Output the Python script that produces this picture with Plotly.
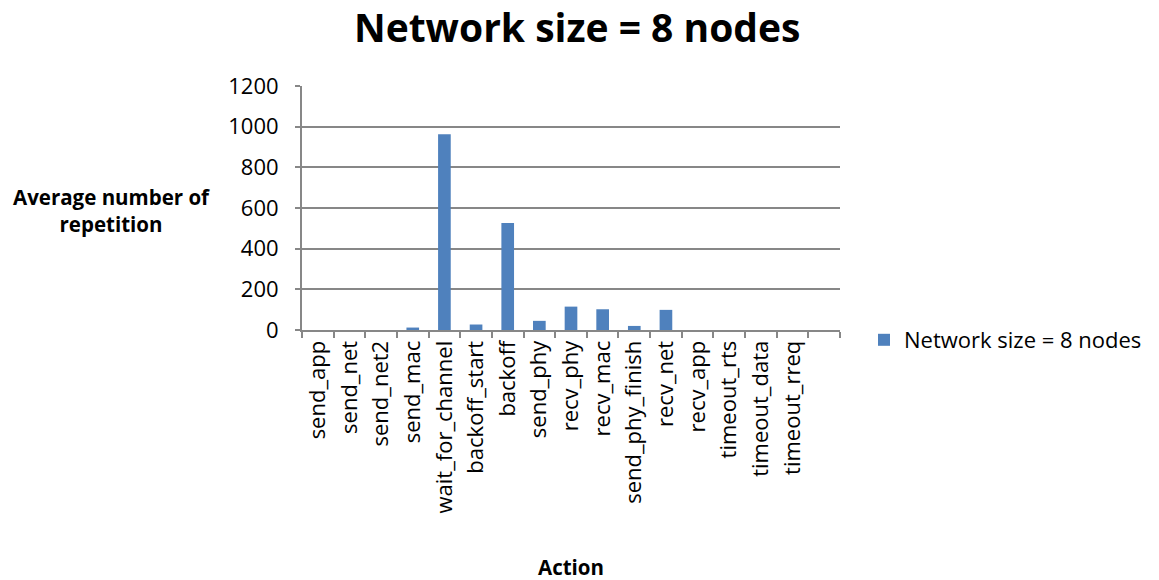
import plotly.graph_objects as go

# Average repetition count per action
actions = ["send_app", "send_net", "send_net2", "send_mac", "wait_for_channel",
           "backoff_start", "backoff", "send_phy", "recv_phy", "recv_mac",
           "send_phy_finish", "recv_net", "recv_app", "timeout_rts",
           "timeout_data", "timeout_rreq", " "]
repetitions = [0, 0, 0, 12, 963, 27, 526, 45, 115, 102, 20, 99, 0, 0, 0, 0, None]
series_name = "Network size = 8 nodes"
y_ticks = [0, 200, 400, 600, 800, 1000, 1200]

W, H = 1159, 580
L, R, T, B = 302, 319, 86, 249.5
FONT = "Open Sans, Noto Sans, sans-serif"
GRID = "#878787"

fig = go.Figure()
fig.add_trace(go.Bar(
    x=actions, y=repetitions, name=series_name,
    marker=dict(color="#4f81bd", line=dict(width=0)),
    width=0.4, showlegend=True,
))

fig.update_layout(
    width=W, height=H,
    margin=dict(l=L, r=R, t=T, b=B, pad=0),
    paper_bgcolor="white", plot_bgcolor="white",
    font=dict(family=FONT, color="black"),
    title=dict(text="<b>Network size = 8 nodes</b>", x=0.498, xanchor="center",
               y=1 - 28 / H, yanchor="middle", yref="container",
               font=dict(size=39, family=FONT, color="black")),
    legend=dict(x=864 / W, xref="container", y=1 - 340 / H, yref="container",
                xanchor="left", yanchor="middle", font=dict(size=22, family=FONT),
                bgcolor="rgba(0,0,0,0)", itemsizing="constant"),
    xaxis=dict(
        type="category", categoryorder="array", categoryarray=actions,
        tickangle=-90, tickfont=dict(size=22, family=FONT),
        showline=True, linecolor=GRID, linewidth=2,
        ticks="outside", tickson="boundaries", ticklen=6, tickcolor=GRID, tickwidth=2,
        showgrid=False, range=[-0.5, len(actions) - 0.5],
    ),
    yaxis=dict(
        range=[0, 1200], tickvals=y_ticks, ticktext=[str(v) for v in y_ticks],
        tickfont=dict(size=22, family=FONT), ticklabelstandoff=12,
        showline=True, linecolor=GRID, linewidth=2,
        ticks="outside", ticklen=5, tickcolor=GRID, tickwidth=2,
        showgrid=True, gridcolor=GRID, gridwidth=2,
        zeroline=False,
    ),
)

fig.add_annotation(text="<b>Action</b>", xref="paper", yref="paper",
                   x=0.5 + (571 - (L + (W - L - R) / 2)) / (W - L - R),
                   y=-(568 - (H - B)) / (H - T - B), xanchor="center", yanchor="middle",
                   showarrow=False, font=dict(size=20.5, family=FONT))
fig.add_annotation(text="<b>Average number of<br>repetition</b>", xref="paper", yref="paper",
                   x=-(L - 112) / (W - L - R), y=1 - (211 - T) / (H - T - B),
                   xanchor="center", yanchor="middle", align="center",
                   showarrow=False, font=dict(size=20.5, family=FONT))

fig.write_html("out.html")
